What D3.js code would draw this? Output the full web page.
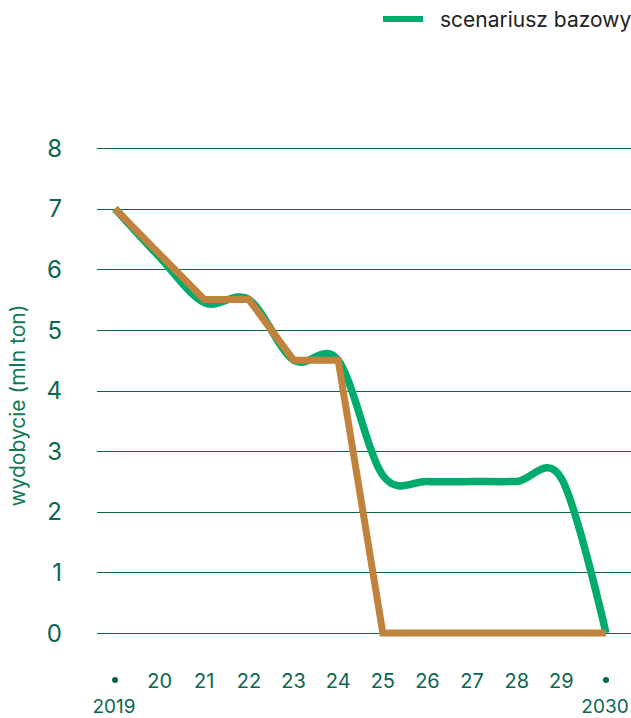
<!DOCTYPE html>
<html lang="pl">
  <head>
    <meta charset="UTF-8" />
    <title>Wydobycie</title>
    <style>
      html,
      body {
        margin: 0;
        background: #fff;
        font-family: "Inter", sans-serif;
      }
      #chart {
        width: 631px;
        height: 718px;
        overflow: hidden;
      }
    </style>
  </head>
  <body>
    <div id="chart"></div>

    <script src="https://cdnjs.cloudflare.com/ajax/libs/d3/7.8.5/d3.min.js"></script>
    <script>
      const years = [2019, 2020, 2021, 2022, 2023, 2024, 2025, 2026, 2027, 2028, 2029, 2030];
      const baseSeries = [7, 6.2, 5.45, 5.5, 4.5, 4.5, 2.6, 2.5, 2.5, 2.5, 2.55, 0];
      const altSeries = [7, 6.25, 5.5, 5.5, 4.5, 4.5, 0, 0, 0, 0, 0, 0];
      const yTicks = [0, 1, 2, 3, 4, 5, 6, 7, 8];
      const legendLabel = "scenariusz bazowy";
      const yLabel = "wydobycie (mln ton)";

      const w = 631,
        h = 718;
      const dark = "#0b6650";
      const green = "#00ab6c";
      const orange = "#c0823c";

      const x = d3.scaleLinear().domain([2019, 2030]).range([115, 606]);
      const y = d3.scaleLinear().domain([0, 8]).range([633, 148]);

      const svg = d3
        .select("#chart")
        .append("svg")
        .attr("width", w)
        .attr("height", h);

      // grid lines
      svg
        .append("g")
        .selectAll("line")
        .data(yTicks)
        .join("line")
        .attr("x1", 97)
        .attr("x2", w)
        .attr("y1", (d) => Math.round(y(d)) + 0.5)
        .attr("y2", (d) => Math.round(y(d)) + 0.5)
        .attr("stroke", dark)
        .attr("stroke-width", 1);

      // y tick labels
      svg
        .append("g")
        .selectAll("text")
        .data(yTicks)
        .join("text")
        .attr("x", 62)
        .attr("y", (d) => y(d))
        .attr("dy", "0.36em")
        .attr("text-anchor", "end")
        .attr("fill", dark)
        .style("font-size", "24px")
        .text((d) => d);

      // y axis title
      svg
        .append("text")
        .attr("transform", `translate(25,${y(3.75)}) rotate(-90)`)
        .attr("text-anchor", "middle")
        .attr("fill", "#0f7a55")
        .style("font-size", "21px")
        .text(yLabel);

      // x tick labels
      const xg = svg.append("g");
      xg.selectAll("text.short")
        .data(years.slice(1, -1))
        .join("text")
        .attr("class", "short")
        .attr("x", (d) => x(d))
        .attr("y", 688)
        .attr("text-anchor", "middle")
        .attr("fill", dark)
        .style("font-size", "20px")
        .text((d) => String(d).slice(2));

      const ends = [years[0], years[years.length - 1]];
      xg.selectAll("circle")
        .data(ends)
        .join("circle")
        .attr("cx", (d) => x(d))
        .attr("cy", 680)
        .attr("r", 3)
        .attr("fill", dark);
      xg.selectAll("text.full")
        .data(ends)
        .join("text")
        .attr("class", "full")
        .attr("x", (d) => x(d) - 1)
        .attr("y", 713)
        .attr("text-anchor", "middle")
        .attr("fill", dark)
        .style("font-size", "19px")
        .text((d) => d);

      // lines
      const green_line = d3
        .line()
        .x((d, i) => x(years[i]))
        .y((d) => y(d))
        .curve(d3.curveCardinal.tension(0));

      const orange_line = d3
        .line()
        .x((d, i) => x(years[i]))
        .y((d) => y(d));

      svg
        .append("path")
        .datum(baseSeries)
        .attr("fill", "none")
        .attr("stroke", green)
        .attr("stroke-width", 7.5)
        .attr("d", green_line);

      svg
        .append("path")
        .datum(altSeries)
        .attr("fill", "none")
        .attr("stroke", orange)
        .attr("stroke-width", 7)
        .attr("d", orange_line);

      // legend
      const legend = svg.append("g").attr("transform", "translate(383,19)");
      legend
        .append("line")
        .attr("x1", 0)
        .attr("x2", 40)
        .attr("stroke", green)
        .attr("stroke-width", 6);
      legend
        .append("text")
        .attr("x", 57)
        .attr("dy", "0.36em")
        .attr("fill", "#222")
        .style("font-size", "21px")
        .text(legendLabel);
    </script>
  </body>
</html>
